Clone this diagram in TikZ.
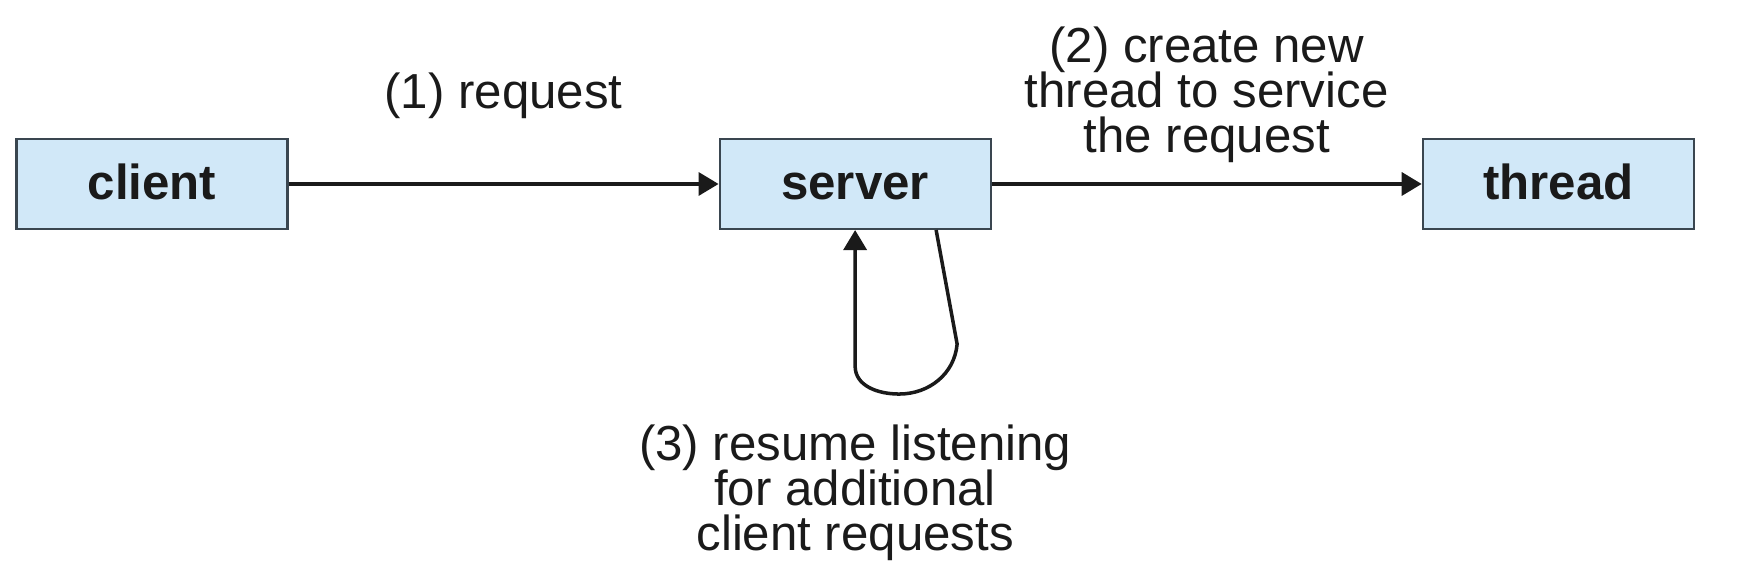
\documentclass[tikz,border=0pt]{standalone}
\usepackage{fontspec}
\setmainfont{Liberation Sans}
\usetikzlibrary{arrows.meta,positioning,calc}
\setlength{\lineskiplimit}{-20pt}
\definecolor{srvfill}{HTML}{D1E8F8}
\definecolor{srvedge}{HTML}{3A4650}
\definecolor{srvink}{HTML}{1A1A1A}
\tikzset{
  box/.style={draw=srvedge, line width=0.6pt, fill=srvfill, align=center, font=\fontsize{14}{12.6}\selectfont\bfseries, text=srvink, minimum width=27.1mm, minimum height=9mm, inner sep=0pt, text height=3.2mm, text depth=0pt},
  lbl/.style={align=center, font=\fontsize{14}{12.8}\selectfont, text=srvink, inner sep=0pt},
  arr/.style={-{Triangle[length=2mm, width=2.3mm]}, line width=1pt, color=srvink},
}
\begin{document}
\begin{tikzpicture}[node distance=43mm]
    \useasboundingbox (0,0) rectangle (17.42,5.64);
    \node[box] at (1.52,3.80) (client) {client};
    \node[box, right=of client] (server) {server};
    \node[box, right=of server] (thread) {thread};
    \draw[arr] (client) -- node[lbl, above=6.4mm] (req) {(1) request} (server);
    \draw[arr] (server) -- node[lbl, above=2.0mm] (create) {(2) create new\\thread to service\\the request} (thread);
    % loop back into the server
    \coordinate (loopout) at ($(server.south)+(0.81,0)$);
    \draw[arr] (loopout) -- ++(0.21,-1.14) to[out=-95,in=0] ++(-0.58,-0.50) to[out=180,in=-90] ++(-0.44,0.28) -- (server.south);
    \node[lbl, below=19.4mm of server] (resume) {(3) resume listening\\for additional\\client requests};
  \end{tikzpicture}
\end{document}
